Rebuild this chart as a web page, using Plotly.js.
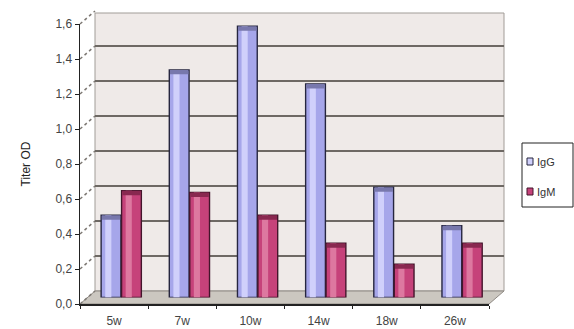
<!DOCTYPE html>
<html>
<head>
<meta charset="utf-8">
<script src="https://cdn.plot.ly/plotly-3.0.1.min.js"></script>
<style>
  html, body { margin: 0; padding: 0; background: #ffffff; }
  #chart { width: 574px; height: 329px; }
</style>
</head>
<body>
<div id="chart"></div>
<script>
// Antibody titers (OD) by week after immunisation
const weeks = ['5w', '7w', '10w', '14w', '18w', '26w'];
const iggValues = [0.47, 1.30, 1.55, 1.22, 0.63, 0.41];
const igmValues = [0.61, 0.60, 0.47, 0.31, 0.19, 0.31];
const seriesNames = ['IgG', 'IgM'];
const yTickValues = [0, 0.2, 0.4, 0.6, 0.8, 1.0, 1.2, 1.4, 1.6];

// ---- page geometry (pixels) ----
const W = 574, H = 329;
const px = x => x / W;          // pixel x -> paper
const py = y => 1 - y / H;      // pixel y -> paper

const YMAX = 1.6;
const front = { l: 80, r: 489, b: 304, t: 24 };           // front axis frame
const scale = (front.b - front.t) / YMAX;                 // px per OD unit
const depth = { dx: 15, dy: 13 };                         // 3-D depth offset
const back = { l: front.l + depth.dx, r: front.r + depth.dx,
               b: front.b - depth.dy, t: 13 };
const mid = { l: front.l + depth.dx / 2, r: front.r + depth.dx / 2,
              b: front.b - depth.dy / 2 };

const colors = {
  igg: '#a6a6ea', iggEdge: '#26263f', iggLight: '#d0d0fb', iggCap: '#7878ad',
  igm: '#c6427a', igmEdge: '#43152b', igmLight: '#dd78a0', igmCap: '#892850'
};

const font = 'Liberation Sans, Arial, sans-serif';

// ---- cylinder-ish columns, drawn on the mid-depth plane ----
const capH = 0.025;
function columnTraces(name, values, offset, base, edge, light, cap) {
  return [
    { type: 'bar', name: name, x: weeks, y: values, xaxis: 'x2', yaxis: 'y2',
      width: 0.29, offset: offset,
      marker: { color: base, line: { color: edge, width: 1.4 } },
      hoverinfo: 'x+y', showlegend: false },
    { type: 'bar', x: weeks, y: values, xaxis: 'x2', yaxis: 'y2',
      width: 0.09, offset: offset + 0.06,
      marker: { color: light, line: { width: 0 } },
      hoverinfo: 'skip', showlegend: false },
    { type: 'bar', x: weeks, y: values.map(() => capH), base: values.map(v => v - capH),
      xaxis: 'x2', yaxis: 'y2', width: 0.27, offset: offset + 0.01,
      marker: { color: cap, line: { width: 0 } },
      hoverinfo: 'skip', showlegend: false }
  ];
}

const traces = [
  // anchors the back-wall grid subplot
  { type: 'scatter', x: [0], y: [0], mode: 'none', xaxis: 'x', yaxis: 'y',
    hoverinfo: 'skip', showlegend: false },
  ...columnTraces(seriesNames[0], iggValues, -0.30, colors.igg, colors.iggEdge, colors.iggLight, colors.iggCap),
  ...columnTraces(seriesNames[1], igmValues, 0.0, colors.igm, colors.igmEdge, colors.igmLight, colors.igmCap),
  // front axis frame with the category labels
  { type: 'scatter', x: weeks, y: weeks.map(() => 0), mode: 'none', xaxis: 'x3', yaxis: 'y3',
    hoverinfo: 'skip', showlegend: false }
];

// ---- walls, floor and depth connectors ----
const shapes = [
  { type: 'rect', xref: 'paper', yref: 'paper', layer: 'below',
    x0: px(back.l), x1: px(back.r), y0: py(back.b), y1: py(back.t),
    fillcolor: '#efeae8', line: { color: '#a19c97', width: 1 } },
  { type: 'path', xref: 'paper', yref: 'paper', layer: 'below',
    path: `M ${px(back.l)} ${py(back.b)} L ${px(back.r)} ${py(back.b)} ` +
          `L ${px(front.r)} ${py(front.b)} L ${px(front.l)} ${py(front.b)} Z`,
    fillcolor: '#cbc7c0', line: { color: '#8f8a84', width: 1 } }
];
yTickValues.forEach(v => {
  const yf = front.b - v * scale;
  shapes.push({ type: 'line', xref: 'paper', yref: 'paper', layer: 'below',
    x0: px(front.l), y0: py(yf), x1: px(back.l), y1: py(yf - depth.dy),
    line: { color: '#7d7873', width: 1.5, dash: 'dot' } });
});

// ---- legend box ----
const legend = { l: 522, r: 573, t: 143, b: 207, rows: [162, 192] };
shapes.push({ type: 'rect', xref: 'paper', yref: 'paper',
  x0: px(legend.l), x1: px(legend.r), y0: py(legend.b), y1: py(legend.t),
  fillcolor: '#ffffff', line: { color: '#222222', width: 1 } });
const legendFill = [colors.iggLight, colors.igm];
const legendEdge = [colors.iggEdge, colors.igmEdge];
const annotations = [];
seriesNames.forEach((name, i) => {
  const cy = legend.rows[i];
  shapes.push({ type: 'rect', xref: 'paper', yref: 'paper',
    x0: px(legend.l + 5), x1: px(legend.l + 11), y0: py(cy + 3), y1: py(cy - 4),
    fillcolor: legendFill[i], line: { color: legendEdge[i], width: 1 } });
  annotations.push({ xref: 'paper', yref: 'paper', x: px(legend.l + 13), y: py(cy),
    xanchor: 'left', yanchor: 'middle', showarrow: false, text: name,
    font: { family: font, size: 11, color: '#333333' } });
});

const layout = {
  width: W, height: H,
  margin: { l: 0, r: 0, t: 0, b: 0 },
  paper_bgcolor: '#ffffff',
  plot_bgcolor: 'rgba(0,0,0,0)',
  separators: ',.',
  showlegend: false,
  barmode: 'overlay',
  font: { family: font, size: 12, color: '#3c3c3c' },
  // back wall with horizontal gridlines
  xaxis: { domain: [px(back.l), px(back.r)], range: [-0.5, 5.5], visible: false, anchor: 'y' },
  yaxis: { domain: [py(back.b), py(back.t)], range: [0, (back.b - back.t) / scale],
           anchor: 'x', tick0: 0, dtick: 0.2, showgrid: true, gridcolor: '#6e6964', gridwidth: 2.5,
           zeroline: false, showline: false, ticks: '', showticklabels: false },
  // mid-depth plane carrying the columns
  xaxis2: { domain: [px(mid.l), px(mid.r)], range: [-0.5, 5.5], type: 'category',
            categoryorder: 'array', categoryarray: weeks, visible: false, anchor: 'y2' },
  yaxis2: { domain: [py(mid.b), py(back.t)], range: [0, (mid.b - back.t) / scale],
            visible: false, anchor: 'x2' },
  // front axes
  xaxis3: { domain: [px(front.l), px(front.r)], range: [-0.5, 5.5], type: 'category',
            categoryorder: 'array', categoryarray: weeks, anchor: 'y3',
            tickson: 'boundaries', ticks: 'outside', ticklen: 3, tickcolor: '#222222',
            showline: true, linecolor: '#222222', linewidth: 1.5, showgrid: false,
            zeroline: false, ticklabelstandoff: 5,
            tickfont: { family: font, size: 12, color: '#444444' } },
  yaxis3: { domain: [py(front.b), py(front.t)], range: [0, YMAX], anchor: 'x3',
            tickvals: yTickValues, tickformat: '.1f', ticks: 'outside', ticklen: 4,
            tickcolor: '#222222', showline: true, linecolor: '#222222', linewidth: 1.5,
            showgrid: false, zeroline: false,
            tickfont: { family: font, size: 12, color: '#444444' },
            title: { text: 'Titer OD', standoff: 22,
                     font: { family: font, size: 12, color: '#222222' } } },
  shapes: shapes,
  annotations: annotations
};

Plotly.newPlot('chart', traces, layout, { displayModeBar: false, staticPlot: true });
</script>
</body>
</html>
